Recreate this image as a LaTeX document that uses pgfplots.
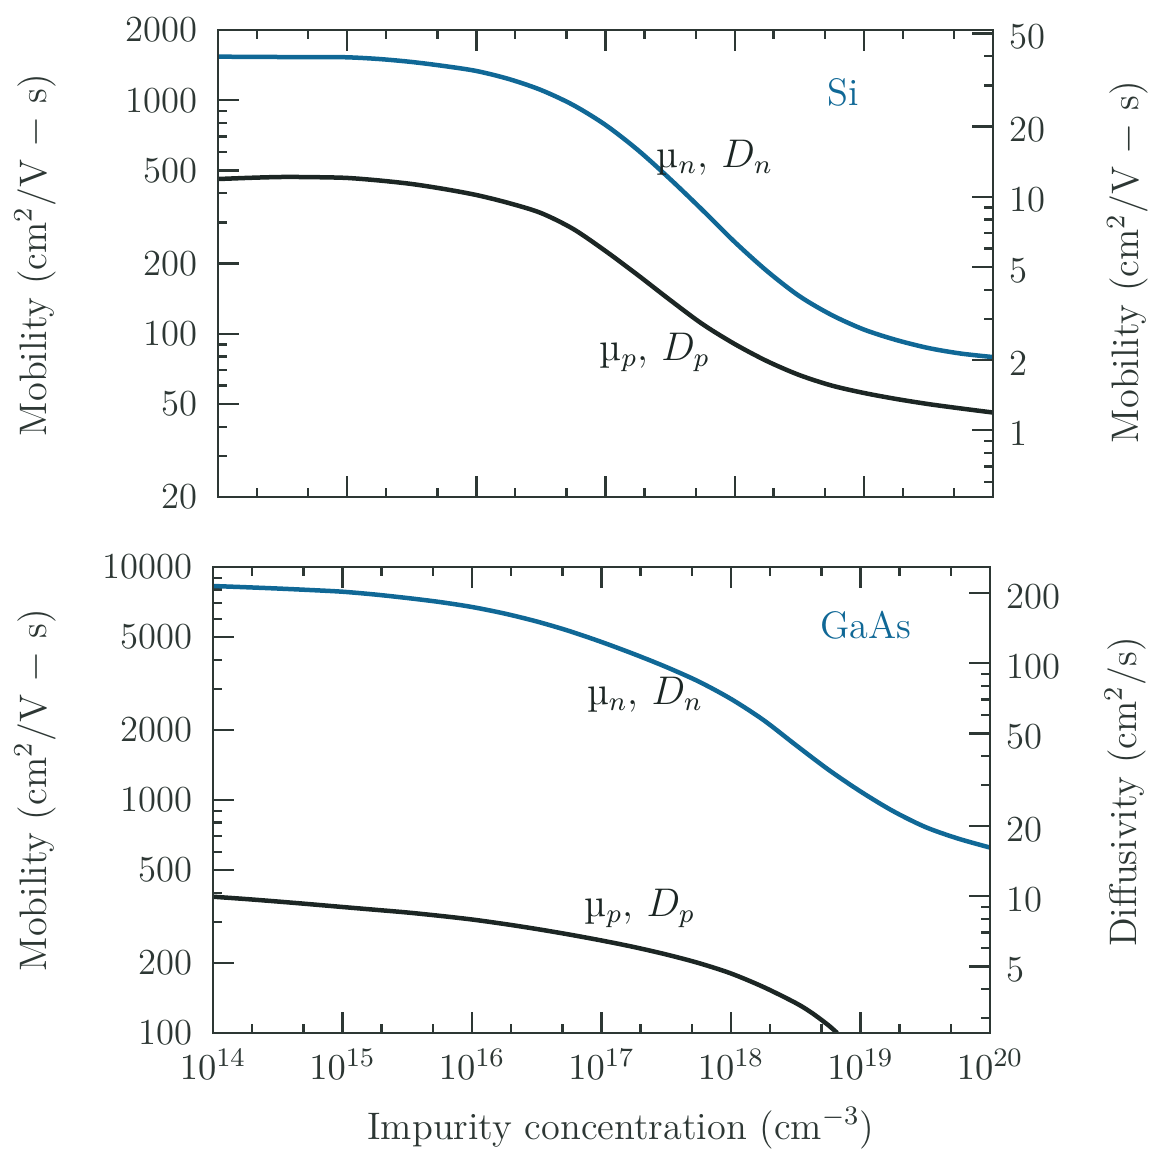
\documentclass[border=0pt]{standalone}
\usepackage{pgfplots}
\pgfplotsset{compat=1.18}

\definecolor{siblue}{RGB}{16,104,150}
\definecolor{ink}{RGB}{28,38,36}
\definecolor{frame}{RGB}{45,55,52}

\pgfplotsset{
  panel/.style={
    scale only axis,
    xmin=1e14, xmax=1e20,
    tick align=inside,
    major tick length=6.2pt, minor tick length=2.6pt,
    every tick/.style={frame, line width=0.7pt},
    axis line style={frame, line width=0.8pt},
    tick label style={font=\fontsize{11}{13}\selectfont, text=frame},
    label style={font=\fontsize{11.5}{13}\selectfont, text=frame},
    xtick={1e14,1e15,1e16,1e17,1e18,1e19,1e20},
    minor xtick={2e14,5e14,2e15,5e15,2e16,5e16,2e17,5e17,2e18,5e18,2e19,5e19},
  },
  curve/.style={smooth, line width=1.35pt},
}
\tikzset{lbl/.style={font=\fontsize{12}{14}\selectfont, text=ink}}

\begin{document}
\begin{tikzpicture}
\path[use as bounding box] (-65.4pt,9pt) rectangle (280.5pt,-336.6pt);

% ---------------- Si (top) ----------------
\begin{loglogaxis}[panel, at={(0pt,0pt)}, anchor=north west,
    width=232.5pt, height=140.1pt,
    ymin=20, ymax=2000,
    ytick={20,50,100,200,500,1000,2000},
    yticklabels={20,50,100,200,500,1000,2000},
    minor ytick={30,40,60,70,80,90,300,400,600,700,800,900},
    ytick pos=left, xtick pos=both, xticklabel=\empty,
    yticklabel style={xshift=-2.6pt},
    ylabel={Mobility (cm$^2$/V $-$ s)},
    ylabel style={at={(axis description cs:-0.236,0.518)}, anchor=center},
  ]
  % mu_n, D_n
  \addplot[curve, siblue] coordinates {
    (1e14,1537) (1.778e14,1535) (3.162e14,1532) (5.623e14,1531) (1e15,1528)
    (1.778e15,1502) (3.162e15,1459) (5.623e15,1402) (1e16,1335) (1.778e16,1234)
    (3.162e16,1107) (5.623e16,954) (1e17,784) (1.778e17,612.6) (3.162e17,460)
    (5.623e17,339) (1e18,247.3) (1.778e18,185.7) (3.162e18,145.1) (5.623e18,120.4)
    (1e19,104.3) (1.778e19,94.1) (3.162e19,86.9) (5.623e19,82.3) (1e20,79.5)
  };
  % mu_p, D_p
  \addplot[curve, ink] coordinates {
    (1e14,460) (1.778e14,465.6) (3.162e14,469.4) (5.623e14,468.5) (1e15,465)
    (1.778e15,453.4) (3.162e15,438) (5.623e15,417) (1e16,393) (1.778e16,363.2)
    (3.162e16,329.1) (5.623e16,281.1) (1e17,226.2) (1.778e17,178.5) (3.162e17,139.5)
    (5.623e17,110.1) (1e18,90.4) (1.778e18,76.4) (3.162e18,66.6) (5.623e18,60.05)
    (1e19,55.8) (1.778e19,52.6) (3.162e19,50.0) (5.623e19,47.9) (1e20,46.0)
  };
  \node[font=\fontsize{11.5}{13}\selectfont, text=siblue] at (axis cs:6.87e18,1085) {Si};
  \node[lbl] at (axis cs:7.03e17,566) {\textmu$_n$, $D_n$};
  \node[lbl] at (axis cs:2.41e17,83.6) {\textmu$_p$, $D_p$};
\end{loglogaxis}

\begin{loglogaxis}[panel, at={(0pt,0pt)}, anchor=north west,
    width=232.5pt, height=140.1pt,
    ymin=0.518, ymax=51.8,
    ytick={1,2,5,10,20,50},
    yticklabels={1,2,5,10,20,50},
    minor ytick={0.6,0.7,0.8,0.9,3,4,6,7,8,9,30,40},
    xtick=\empty, minor xtick={},
    ytick pos=right,
    yticklabel style={xshift=1.4pt, yshift=-1pt},
    ylabel={Mobility (cm$^2$/V $-$ s)},
    ylabel style={at={(axis description cs:1.174,0.503)}, anchor=center},
  ]
\end{loglogaxis}

% ---------------- GaAs (bottom) ----------------
\begin{loglogaxis}[panel, at={(-1.5pt,-161.1pt)}, anchor=north west,
    width=233.1pt, height=139.8pt,
    ymin=100, ymax=10000,
    ytick={100,200,500,1000,2000,5000,10000},
    yticklabels={100,200,500,1000,2000,5000,10000},
    minor ytick={300,400,600,700,800,900,3000,4000,6000,7000,8000,9000},
    ytick pos=left, xtick pos=both,
    yticklabel style={xshift=-2.6pt},
    xticklabel style={yshift=-1.4pt},
    ylabel={Mobility (cm$^2$/V $-$ s)},
    ylabel style={at={(axis description cs:-0.229,0.521)}, anchor=center},
    xlabel={Impurity concentration (cm$^{-3}$)},
    xlabel style={at={(axis description cs:0.525,-0.204)}, anchor=center},
  ]
  % mu_n, D_n
  \addplot[curve, siblue] coordinates {
    (1e14,8288) (1.778e14,8190) (3.162e14,8084) (5.623e14,7966) (1e15,7834)
    (1.778e15,7621) (3.162e15,7362) (5.623e15,7077) (1e16,6735) (1.778e16,6316)
    (3.162e16,5837) (5.623e16,5314) (1e17,4766) (1.778e17,4232) (3.162e17,3722)
    (5.623e17,3226) (1e18,2714) (1.778e18,2205) (3.162e18,1722) (5.623e18,1352)
    (1e19,1088) (1.778e19,897) (3.162e19,766) (5.623e19,684) (1e20,625)
  };
  % mu_p, D_p
  \addplot[curve, ink] coordinates {
    (1e14,384.6) (1.778e14,376.0) (3.162e14,366.7) (5.623e14,357.1) (1e15,347.4)
    (1.778e15,338.1) (3.162e15,329) (5.623e15,318.4) (1e16,307) (1.778e16,293.7)
    (3.162e16,279.5) (5.623e16,264.7) (1e17,249.5) (1.778e17,233.9) (3.162e17,217.3)
    (5.623e17,199.7) (1e18,180.1) (1.778e18,157.6) (3.162e18,134.5) (4.217e18,121.9)
    (5.623e18,108.2) (6.607e18,100)
  };
  \node[font=\fontsize{11.5}{13}\selectfont, text=siblue] at (axis cs:1.10e19,5637) {GaAs};
  \node[lbl] at (axis cs:2.17e17,2822) {\textmu$_n$, $D_n$};
  \node[lbl] at (axis cs:1.98e17,344) {\textmu$_p$, $D_p$};
\end{loglogaxis}

\begin{loglogaxis}[panel, at={(-1.5pt,-161.1pt)}, anchor=north west,
    width=233.1pt, height=139.8pt,
    ymin=2.59, ymax=259,
    ytick={5,10,20,50,100,200},
    yticklabels={5,10,20,50,100,200},
    minor ytick={3,4,6,7,8,9,30,40,60,70,80,90},
    xtick=\empty, minor xtick={},
    ytick pos=right,
    yticklabel style={xshift=1.4pt, yshift=-1pt},
    ylabel={Diffusivity (cm$^2$/s)},
    ylabel style={at={(axis description cs:1.174,0.517)}, anchor=center},
  ]
\end{loglogaxis}
\end{tikzpicture}
\end{document}
